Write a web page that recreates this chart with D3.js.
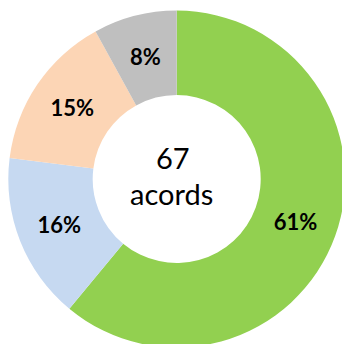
<!DOCTYPE html>
<html>
<head>
<meta charset="utf-8">
<script src="https://cdn.jsdelivr.net/npm/d3@7"></script>
<style>
  html, body { margin: 0; padding: 0; background: #fff; }
  svg { display: block; }
</style>
</head>
<body>
<div id="chart"></div>
<script>
// data
var categories = ['A', 'B', 'C', 'D'],
    values = [61, 16, 15, 8],
    colors = ['#92D050', '#C6D9F1', '#FCD5B5', '#BFBFBF'],
    centerLines = ['67', 'acords'];

var w = 342, h = 344;
var cx = 176.7, cy = 179,
    r_out = 168.4, r_in = 84;

var svg = d3.select('#chart').append('svg')
  .attr('width', w).attr('height', h);

var g = svg.append('g').attr('transform', 'translate(' + cx + ',' + cy + ')');

var pie = d3.pie().sort(null).value(function(d) { return d; });
var arc = d3.arc().innerRadius(r_in).outerRadius(r_out);
var arcs = pie(values);

g.selectAll('path.slice').data(arcs).enter().append('path')
  .attr('class', 'slice')
  .attr('d', arc)
  .attr('fill', function(d, i) { return colors[i]; });

g.selectAll('text.lbl').data(arcs).enter().append('text')
  .attr('class', 'lbl')
  .attr('transform', function(d) { return 'translate(' + arc.centroid(d) + ')'; })
  .attr('text-anchor', 'middle')
  .attr('dy', '0.36em')
  .attr('font-family', 'Lato, sans-serif')
  .attr('font-weight', 'bold')
  .attr('font-size', 22)
  .attr('fill', '#000')
  .text(function(d) { return d.value + '%'; });

// center text
g.append('text').attr('x', -4).attr('y', -10)
  .attr('text-anchor', 'middle')
  .attr('font-family', 'Lato, sans-serif').attr('font-size', 29)
  .attr('fill', '#000').text(centerLines[0]);
g.append('text').attr('x', -5).attr('y', 26)
  .attr('text-anchor', 'middle')
  .attr('font-family', 'Lato, sans-serif').attr('font-size', 29)
  .attr('fill', '#000').text(centerLines[1]);
</script>
</body>
</html>
